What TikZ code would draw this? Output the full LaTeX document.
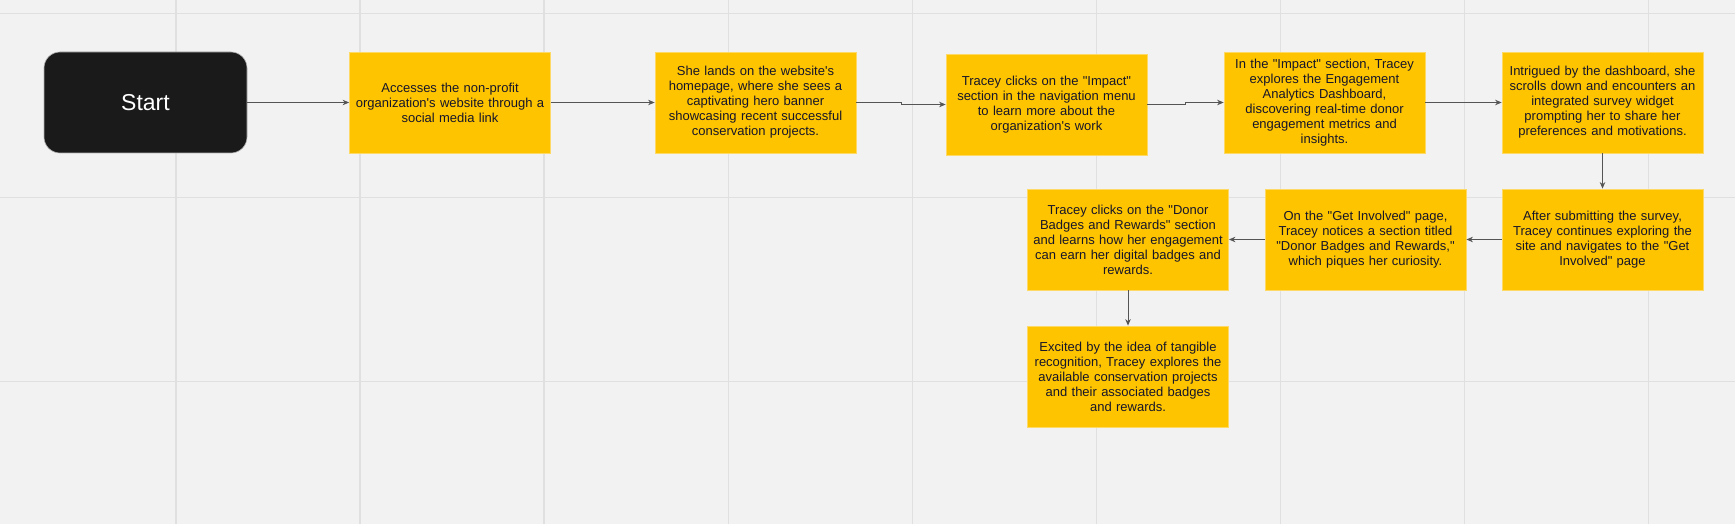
\documentclass[tikz,border=0pt]{standalone}
\usepackage{fontspec}
\setmainfont{Liberation Sans}[Ligatures=TeXOff]
\usetikzlibrary{arrows.meta,calc}
\definecolor{canvas}{HTML}{F2F2F2}
\definecolor{gridline}{HTML}{E0E0E0}
\definecolor{stepfill}{HTML}{FFC400}
\definecolor{stepedge}{HTML}{FFD966}
\definecolor{inktext}{HTML}{16162A}
\definecolor{wire}{HTML}{555555}
\definecolor{startfill}{HTML}{1A1A1A}
\begin{document}
\begin{tikzpicture}[x=1pt, y=-1pt,
    stepbox/.style={rectangle, fill=stepfill, draw=stepedge, line width=0.8pt, text=inktext,
        text width=193pt, inner xsep=4pt, minimum height=101pt, align=center,
        font=\fontsize{13}{15}\selectfont},
    startbox/.style={rectangle, rounded corners=16pt, fill=startfill, draw=gray!60, line width=0.6pt,
        text=white, minimum width=203pt, minimum height=101pt, font=\fontsize{23}{26}\selectfont},
    flow/.style={draw=wire, line width=0.9pt, -{Stealth[length=6.5pt,width=5.5pt]}}]
    \useasboundingbox (0,0) rectangle (1735,524);
    \fill[canvas] (0,0) rectangle (1735,524);
    \foreach \gx in {0,...,8}
        \draw[gridline, line width=1.3pt] ({175.9+184.1*\gx},0) -- ++(0,524);
    \foreach \gy in {0,...,2}
        \draw[gridline, line width=1.3pt] (0,{13.3+184.1*\gy}) -- ++(1735,0);

    % top row
    \node[startbox] (start) at (145.5,102.5) {Start};
    \node[stepbox] (access) at (450,102.5) {Accesses the non-profit\\organization's website through a\\social media link};
    \node[stepbox] (homepage) at (755.5,102.5) {She lands on the website's\\homepage, where she sees a\\captivating hero banner\\showcasing recent successful\\conservation projects.};
    \node[stepbox] (impact) at (1046.5,104.5) {Tracey clicks on the "Impact"\\section in the navigation menu\\to learn more about the\\organization's work};
    \node[stepbox] (analytics) at (1324.5,102.5) {In the "Impact" section, Tracey\\explores the Engagement\\Analytics Dashboard,\\discovering real-time donor\\engagement metrics and\\insights.};
    \node[stepbox] (survey) at (1602.5,102.5) {Intrigued by the dashboard, she\\scrolls down and encounters an\\integrated survey widget\\prompting her to share her\\preferences and motivations.};

    % second row, right to left
    \node[stepbox] (submit) at (1602.5,239.5) {After submitting the survey,\\Tracey continues exploring the\\site and navigates to the "Get\\Involved" page};
    \node[stepbox] (involved) at (1365.5,239.5) {On the "Get Involved" page,\\Tracey notices a section titled\\"Donor Badges and Rewards,"\\which piques her curiosity.};
    \node[stepbox] (badges) at (1128,239.5) {Tracey clicks on the "Donor\\Badges and Rewards" section\\and learns how her engagement\\can earn her digital badges and\\rewards.};
    \node[stepbox] (excited) at (1128,376.5) {Excited by the idea of tangible\\recognition, Tracey explores the\\available conservation projects\\and their associated badges\\and rewards.};

    \draw[flow] (start) -- (access);
    \draw[flow] (access) -- (homepage);
    \draw[flow] (homepage.east) -| ($(homepage.east)!.5!(impact.west)$) |- (impact.west);
    \draw[flow] (impact.east) -| ($(impact.east)!.5!(analytics.west)$) |- (analytics.west);
    \draw[flow] (analytics) -- (survey);
    \draw[flow] (survey) -- (submit);
    \draw[flow] (submit) -- (involved);
    \draw[flow] (involved) -- (badges);
    \draw[flow] (badges) -- (excited);
\end{tikzpicture}
\end{document}
